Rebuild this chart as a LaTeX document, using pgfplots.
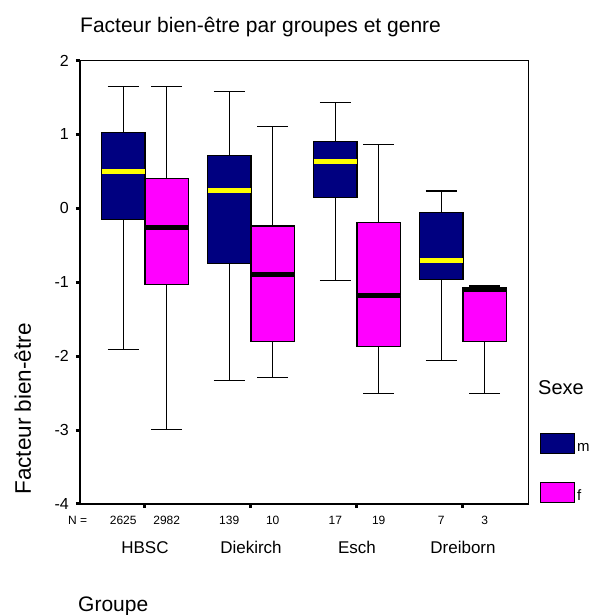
\documentclass[border=0pt]{standalone}
\usepackage{pgfplots}
\pgfplotsset{compat=1.18}
\usepgfplotslibrary{statistics}
\usepackage{fontspec}
\setmainfont{Liberation Sans}
\definecolor{mnavy}{RGB}{0,0,128}
\definecolor{fmag}{RGB}{255,0,255}
\definecolor{myel}{RGB}{255,255,0}
\pgfplotsset{
  mbox/.style={boxplot prepared, fill=mnavy, draw=black, line width=1.2pt,
    boxplot/every median/.style={draw=myel, line width=5pt}},
  fbox/.style={boxplot prepared, fill=fmag, draw=black, line width=1.2pt,
    boxplot/every median/.style={draw=black, line width=5pt}},
}
\begin{document}
\begin{tikzpicture}[x=1pt,y=1pt]
\useasboundingbox (0,0) rectangle (594,615);
\begin{axis}[
  at={(80pt,111pt)}, anchor=south west,
  width=448.5pt, height=443.5pt, scale only axis,
  xmin=0.387, xmax=4.618, ymin=-4, ymax=2,
  ytick={-4,-3,-2,-1,0,1,2}, yticklabels={-4,-3,-2,-1,0,1,2},
  xtick={1,2,3,4}, xticklabels={},
  tick align=outside, major tick length=4pt,
  tick style={line width=3pt, black},
  xtick pos=bottom, ytick pos=left,
  axis line style={line width=1.2pt},
  yticklabel style={font=\fontsize{16}{16}\selectfont, inner sep=1pt, xshift=-6pt},
  clip=false,
  boxplot/draw direction=y,
  boxplot/box extend=0.41, boxplot/whisker extend=0.29,
]
% HBSC
\addplot[mbox, boxplot prepared={draw position=0.795, lower whisker=-1.91, lower quartile=-0.15, median=0.50, upper quartile=1.03, upper whisker=1.65}] coordinates {};
\addplot[fbox, boxplot prepared={draw position=1.205, lower whisker=-2.99, lower quartile=-1.03, median=-0.26, upper quartile=0.40, upper whisker=1.65}] coordinates {};
% Diekirch
\addplot[mbox, boxplot prepared={draw position=1.795, lower whisker=-2.33, lower quartile=-0.75, median=0.24, upper quartile=0.71, upper whisker=1.585}] coordinates {};
\addplot[fbox, boxplot prepared={draw position=2.205, lower whisker=-2.29, lower quartile=-1.80, median=-0.89, upper quartile=-0.24, upper whisker=1.11}] coordinates {};
% Esch
\addplot[mbox, boxplot prepared={draw position=2.795, lower whisker=-0.98, lower quartile=0.145, median=0.64, upper quartile=0.90, upper whisker=1.43}] coordinates {};
\addplot[fbox, boxplot prepared={draw position=3.205, lower whisker=-2.51, lower quartile=-1.865, median=-1.18, upper quartile=-0.19, upper whisker=0.865}] coordinates {};
% Dreiborn
\addplot[mbox, boxplot prepared={draw position=3.795, lower whisker=-2.06, lower quartile=-0.96, median=-0.71, upper quartile=-0.06, upper whisker=0.235}] coordinates {};
\addplot[fbox, boxplot prepared={draw position=4.205, lower whisker=-2.50, lower quartile=-1.80, median=-1.095, upper quartile=-1.07, upper whisker=-1.05}] coordinates {};
% N values
\foreach \xp/\nn in {0.795/2625,1.205/2982,1.795/139,2.205/10,2.795/17,3.205/19,3.795/7,4.205/3}{
  \edef\tmp{\noexpand\node[anchor=base, font=\noexpand\fontsize{12}{12}\noexpand\selectfont] at (axis cs:\xp,-4) [yshift=-21pt] {\nn};}\tmp
}
\foreach \xp/\gg in {1/HBSC,2/Diekirch,3/Esch,4/Dreiborn}{
  \edef\tmp{\noexpand\node[anchor=base, font=\noexpand\fontsize{17}{17}\noexpand\selectfont] at (axis cs:\xp,-4) [yshift=-50pt] {\gg};}\tmp
}
\end{axis}
\node[anchor=base west, font=\fontsize{12}{12}\selectfont, inner sep=0pt] at (68,90) {N =};
\node[anchor=base west, font=\fontsize{21}{21}\selectfont, inner sep=0pt] at (80,582) {Facteur bien-être par groupes et genre};
\node[anchor=base, rotate=90, font=\fontsize{22.5}{22.5}\selectfont, inner sep=0pt] at (31,206) {Facteur bien-être};
\node[anchor=base west, font=\fontsize{21}{21}\selectfont, inner sep=0pt] at (78,3) {Groupe};
\node[anchor=base west, font=\fontsize{20}{20}\selectfont, inner sep=0pt] at (538,220) {Sexe};
\draw[black, line width=1pt, fill=mnavy] (540,161) rectangle (574,181);
\node[anchor=base west, font=\fontsize{15}{15}\selectfont, inner sep=0pt] at (577,163) {m};
\draw[black, line width=1pt, fill=fmag] (540,112) rectangle (574,132);
\node[anchor=base west, font=\fontsize{15}{15}\selectfont, inner sep=0pt] at (577,114) {f};
\end{tikzpicture}
\end{document}
